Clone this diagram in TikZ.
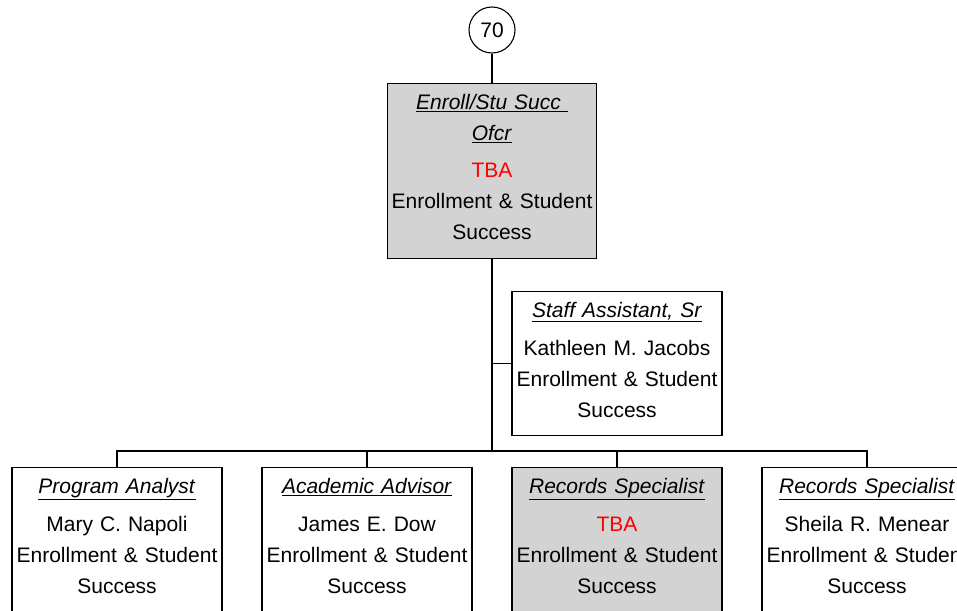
\documentclass[tikz,border=0pt]{standalone}
\usepackage{fontspec}
\setmainfont{Liberation Sans}
\usetikzlibrary{positioning}
\definecolor{boxgray}{RGB}{211,211,211}
\newcommand{\posttitle}[1]{\underline{\textit{#1}}}
\newcommand{\liftup}{\\[-23pt]\mbox{}}

\begin{document}
\begin{tikzpicture}[x=1pt, y=-1pt,
  every node/.style={font=\fontsize{21}{31}\selectfont, align=center, inner sep=0pt},
  post/.style={draw, line width=1.3pt, minimum width=210pt, minimum height=144pt, text width=210pt, anchor=north},
  vacant/.style={post, fill=boxgray},
  link/.style={draw, line width=1.3pt}
]
\useasboundingbox (0,0) rectangle (957,610);

% top of the branch
\node[circle, draw, line width=1.1pt, minimum size=46pt] (num) at (492,30) {70};
\node[vacant, minimum width=209pt, text width=209pt, minimum height=175pt] (head) at (492,83)
  {\posttitle{Enroll/Stu Succ\ }\\ \posttitle{Ofcr}\\[6pt] \textcolor{red}{TBA}\\ Enrollment \& Student\\ Success\liftup};
\node[post] (staff) at (617,291)
  {\posttitle{Staff Assistant, Sr}\\[7pt] Kathleen M. Jacobs\\ Enrollment \& Student\\ Success\liftup};

% reporting posts
\node[post] (pa) at (117,467)
  {\posttitle{Program Analyst}\\[7pt] Mary C. Napoli\\ Enrollment \& Student\\ Success\liftup};
\node[post] (aa) at (367,467)
  {\posttitle{Academic Advisor}\\[7pt] James E. Dow\\ Enrollment \& Student\\ Success\liftup};
\node[vacant] (rs1) at (617,467)
  {\posttitle{Records Specialist}\\[7pt] \textcolor{red}{TBA}\\ Enrollment \& Student\\ Success\liftup};
\node[post] (rs2) at (867,467)
  {\posttitle{Records Specialist}\\[7pt] Sheila R. Menear\\ Enrollment \& Student\\ Success\liftup};

\coordinate (bus) at (492,451);

\draw[link] (num) -- (head);
\draw[link] (head) -- (bus);
\draw[link] (staff.west) -- (staff.west -| bus);
\draw[link] (pa.north) |- (bus) -| (rs2.north);
\foreach \b in {aa,rs1}
  \draw[link] (\b.north) -- (\b.north |- bus);
\end{tikzpicture}
\end{document}
